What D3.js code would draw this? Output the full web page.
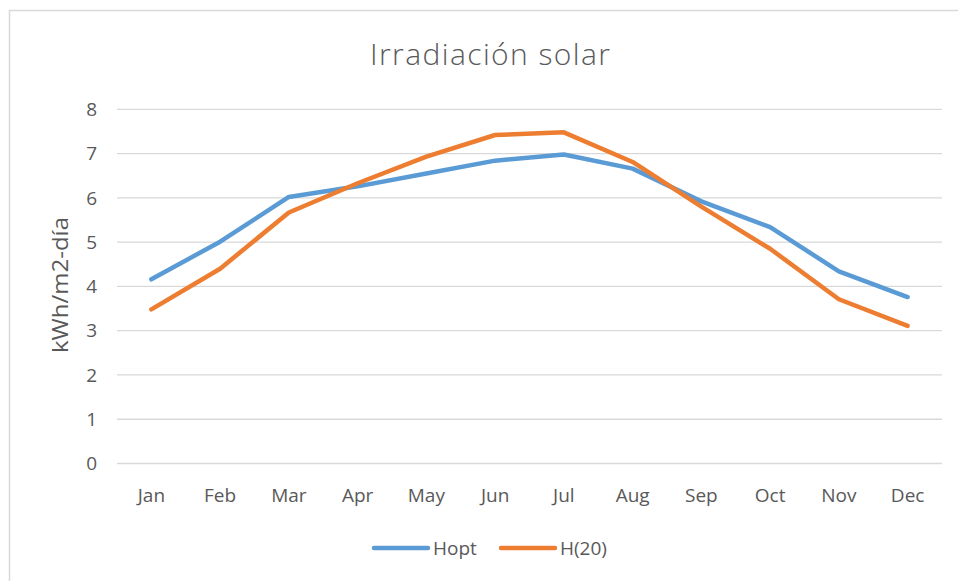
<!DOCTYPE html>
<html>
<head>
<meta charset="utf-8">
<script src="https://cdn.jsdelivr.net/npm/d3@7"></script>
<style>
  body { margin: 0; background: #fff; }
  svg { display: block; font-family: "Open Sans", "Liberation Sans", sans-serif; }
</style>
</head>
<body>
<svg id="chart" width="958" height="581"></svg>
<script>
const months = ['Jan', 'Feb', 'Mar', 'Apr', 'May', 'Jun', 'Jul', 'Aug', 'Sep', 'Oct', 'Nov', 'Dec'];
const hopt = [4.16, 5.01, 6.02, 6.26, 6.55, 6.84, 6.98, 6.66, 5.92, 5.34, 4.34, 3.76];
const h20 = [3.48, 4.40, 5.67, 6.33, 6.93, 7.42, 7.48, 6.81, 5.80, 4.85, 3.71, 3.11];
const yTicks = [0, 1, 2, 3, 4, 5, 6, 7, 8];

const series = [
  { name: 'Hopt', values: hopt, color: '#5B9BD5' },
  { name: 'H(20)', values: h20, color: '#ED7D31' }
];

const svg = d3.select('#chart');
const textColor = '#595959';

// chart frame
svg.append('rect')
  .attr('x', 9.5).attr('y', 10.5)
  .attr('width', 958).attr('height', 600)
  .attr('fill', 'none')
  .attr('stroke', '#d9d9d9')
  .attr('stroke-width', 1.5);

const x = d3.scaleBand().domain(months).range([117, 942]);
const y = d3.scaleLinear().domain([0, 8]).range([463.5, 109.3]);

// gridlines
svg.append('g')
  .selectAll('line')
  .data(yTicks)
  .join('line')
  .attr('x1', 117).attr('x2', 942)
  .attr('y1', d => y(d)).attr('y2', d => y(d))
  .attr('stroke', '#d9d9d9')
  .attr('stroke-width', 1.3);

// y tick labels
svg.append('g')
  .selectAll('text')
  .data(yTicks)
  .join('text')
  .attr('x', 97)
  .attr('y', d => y(d))
  .attr('dy', '0.35em')
  .attr('text-anchor', 'end')
  .attr('font-size', 19)
  .attr('fill', textColor)
  .text(d => d);

// x labels
svg.append('g')
  .selectAll('text')
  .data(months)
  .join('text')
  .attr('x', d => x(d) + x.bandwidth() / 2)
  .attr('y', 502)
  .attr('text-anchor', 'middle')
  .attr('font-size', 19)
  .attr('fill', textColor)
  .text(d => d);

// title
svg.append('text')
  .attr('x', 490).attr('y', 65)
  .attr('text-anchor', 'middle')
  .attr('font-size', 30)
  .attr('font-weight', 300)
  .attr('textLength', 240)
  .attr('lengthAdjust', 'spacing')
  .attr('fill', textColor)
  .text('Irradiación solar');

// y axis title
svg.append('text')
  .attr('transform', 'translate(68,285) rotate(-90)')
  .attr('text-anchor', 'middle')
  .attr('font-size', 21)
  .attr('textLength', 136)
  .attr('lengthAdjust', 'spacingAndGlyphs')
  .attr('fill', textColor)
  .text('kWh/m2-día');

// lines
const line = d3.line()
  .x((d, i) => x(months[i]) + x.bandwidth() / 2)
  .y(d => y(d));

svg.append('g')
  .selectAll('path')
  .data(series)
  .join('path')
  .attr('d', d => line(d.values))
  .attr('fill', 'none')
  .attr('stroke', d => d.color)
  .attr('stroke-width', 4.5)
  .attr('stroke-linejoin', 'round')
  .attr('stroke-linecap', 'round');

// legend
const legendX = [374, 501];
const legend = svg.append('g')
  .selectAll('g')
  .data(series)
  .join('g')
  .attr('transform', (d, i) => `translate(${legendX[i]},548)`);

legend.append('line')
  .attr('x1', 0).attr('x2', 54)
  .attr('stroke', d => d.color)
  .attr('stroke-width', 4.5)
  .attr('stroke-linecap', 'round');

legend.append('text')
  .attr('x', 59)
  .attr('dy', '0.35em')
  .attr('font-size', 19)
  .attr('fill', textColor)
  .text(d => d.name);
</script>
</body>
</html>
